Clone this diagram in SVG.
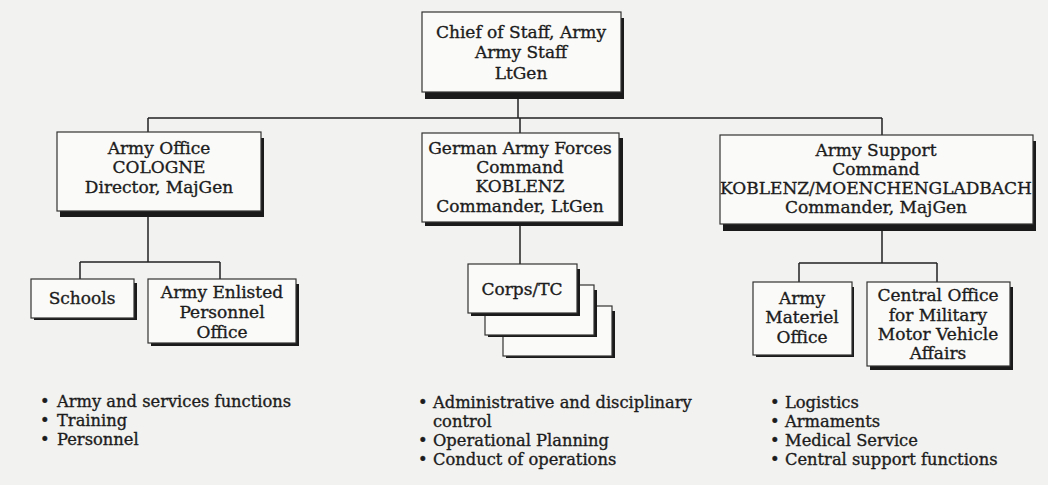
<svg xmlns="http://www.w3.org/2000/svg" width="1048" height="485" viewBox="0 0 1048 485">
<style>
.bg{fill:#f2f2f0}
.box{fill:#fafaf8;stroke:#333;stroke-width:1.2}
.sh{fill:#1a1a1a}
.t{font-family:"DejaVu Serif","Liberation Serif",serif;font-size:17px;fill:#1c1c1c;stroke:#1c1c1c;stroke-width:0.35;text-anchor:middle}
.b{font-family:"DejaVu Serif","Liberation Serif",serif;font-size:16.3px;fill:#1c1c1c;stroke:#1c1c1c;stroke-width:0.35}
.c{stroke:#222;stroke-width:1.5;fill:none}
</style>
<rect class="bg" x="0" y="0" width="1048" height="485"/>
<g id="connectors">
<path class="c" d="M518 99V118M148 118H882M148 118V132M520 118V133M882 118V135"/>
<path class="c" d="M148 217V262M80 262H220M80 262V279M220 262V279"/>
<path class="c" d="M520 226V264"/>
<path class="c" d="M882 231V263M799 263H937M799 263V282M937 263V282"/>
</g>
<g id="chief">
<rect class="sh" x="425" y="18" width="199" height="81"/>
<rect class="box" x="422" y="12" width="199" height="80"/>
<text class="t" x="521" y="38">Chief of Staff, Army</text>
<text class="t" x="521" y="58">Army Staff</text>
<text class="t" x="521" y="79">LtGen</text>
</g>
<g id="army-office">
<rect class="sh" x="60" y="138" width="204" height="79"/>
<rect class="box" x="57" y="132" width="204" height="79"/>
<text class="t" x="159" y="154">Army Office</text>
<text class="t" x="159" y="173">COLOGNE</text>
<text class="t" x="159" y="193">Director, MajGen</text>
</g>
<g id="german-army-forces">
<rect class="sh" x="425" y="138" width="198" height="88"/>
<rect class="box" x="422" y="133" width="197" height="89"/>
<text class="t" x="520" y="154">German Army Forces</text>
<text class="t" x="520" y="173">Command</text>
<text class="t" x="520" y="192">KOBLENZ</text>
<text class="t" x="520" y="212">Commander, LtGen</text>
</g>
<g id="army-support">
<rect class="sh" x="723" y="141" width="313" height="90"/>
<rect class="box" x="720" y="135" width="313" height="89"/>
<text class="t" x="876" y="156">Army Support</text>
<text class="t" x="876" y="175">Command</text>
<text class="t" x="876" y="194">KOBLENZ/MOENCHENGLADBACH</text>
<text class="t" x="876" y="213">Commander, MajGen</text>
</g>
<g id="schools">
<rect class="sh" x="34" y="283" width="103" height="37"/>
<rect class="box" x="31" y="279" width="103" height="39"/>
<text class="t" x="82" y="304">Schools</text>
</g>
<g id="enlisted-office">
<rect class="sh" x="151" y="284" width="148" height="62"/>
<rect class="box" x="148" y="279" width="148" height="64"/>
<text class="t" x="222" y="298">Army Enlisted</text>
<text class="t" x="222" y="318">Personnel</text>
<text class="t" x="222" y="338">Office</text>
</g>
<g id="corps">
<rect class="sh" x="506" y="311" width="109" height="47"/>
<rect class="box" x="503" y="306" width="109" height="50"/>
<rect class="sh" x="488" y="290" width="109" height="47"/>
<rect class="box" x="485" y="285" width="109" height="50"/>
<rect class="sh" x="471" y="269" width="109" height="47"/>
<rect class="box" x="468" y="264" width="109" height="49"/>
<text class="t" x="522" y="295">Corps/TC</text>
</g>
<g id="materiel-office">
<rect class="sh" x="756" y="287" width="98" height="70"/>
<rect class="box" x="753" y="282" width="99" height="73"/>
<text class="t" x="802" y="304">Army</text>
<text class="t" x="802" y="323">Materiel</text>
<text class="t" x="802" y="343">Office</text>
</g>
<g id="central-office">
<rect class="sh" x="870" y="287" width="143" height="83"/>
<rect class="box" x="867" y="282" width="143" height="84"/>
<text class="t" x="938" y="301">Central Office</text>
<text class="t" x="938" y="321">for Military</text>
<text class="t" x="938" y="340">Motor Vehicle</text>
<text class="t" x="938" y="359">Affairs</text>
</g>
<g id="list-left">
<text class="b" x="40" y="407">•</text><text class="b" x="57" y="407">Army and services functions</text>
<text class="b" x="40" y="426">•</text><text class="b" x="57" y="426">Training</text>
<text class="b" x="40" y="445">•</text><text class="b" x="57" y="445">Personnel</text>
</g>
<g id="list-middle">
<text class="b" x="418" y="408">•</text><text class="b" x="433" y="408">Administrative and disciplinary</text>
<text class="b" x="433" y="427">control</text>
<text class="b" x="418" y="446">•</text><text class="b" x="433" y="446">Operational Planning</text>
<text class="b" x="418" y="465">•</text><text class="b" x="433" y="465">Conduct of operations</text>
</g>
<g id="list-right">
<text class="b" x="770" y="408">•</text><text class="b" x="785" y="408">Logistics</text>
<text class="b" x="770" y="427">•</text><text class="b" x="785" y="427">Armaments</text>
<text class="b" x="770" y="446">•</text><text class="b" x="785" y="446">Medical Service</text>
<text class="b" x="770" y="465">•</text><text class="b" x="785" y="465">Central support functions</text>
</g>
</svg>
